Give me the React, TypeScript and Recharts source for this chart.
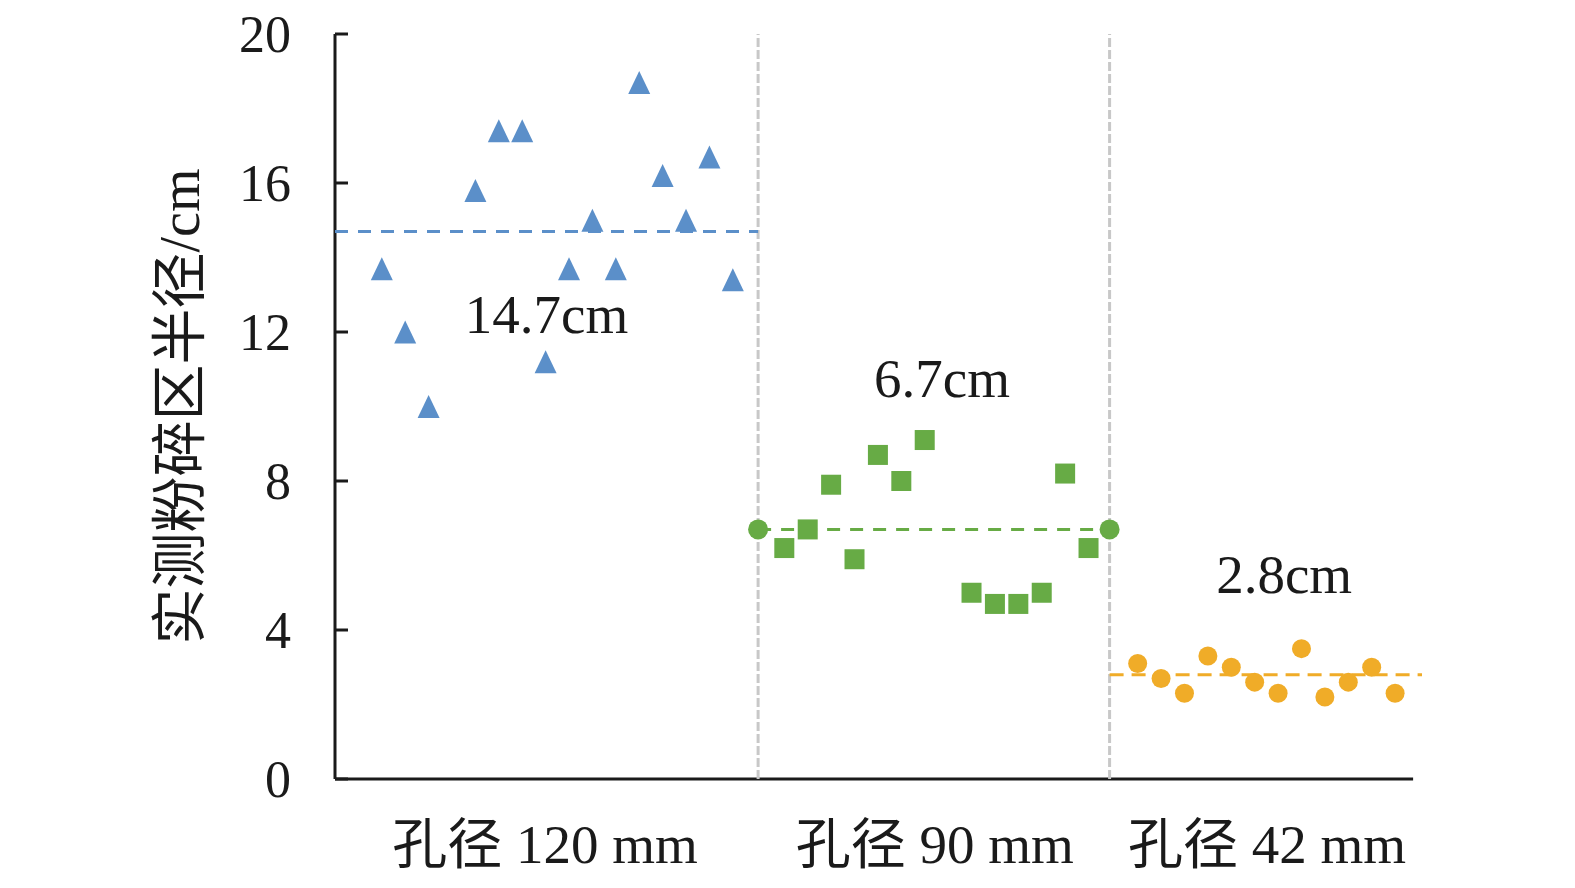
import React from 'react';
import { ScatterChart, Scatter, XAxis, YAxis, ReferenceLine, ReferenceDot } from 'recharts';

// measured radius per hole, x is the position along the row
const HOLE_120_X = [2, 3, 4, 6, 7, 8, 9, 10, 11, 12, 13, 14, 15, 16, 17];
const HOLE_120_Y = [13.7, 12.0, 10.0, 15.8, 17.4, 17.4, 11.2, 13.7, 15.0, 13.7, 18.7, 16.2, 15.0, 16.7, 13.4];
const HOLE_90_X = [19.2, 20.2, 21.2, 22.2, 23.2, 24.2, 25.2, 27.2, 28.2, 29.2, 30.2, 31.2, 32.2];
const HOLE_90_Y = [6.2, 6.7, 7.9, 5.9, 8.7, 8.0, 9.1, 5.0, 4.7, 4.7, 5.0, 8.2, 6.2];
const HOLE_42_X = [34.3, 35.3, 36.3, 37.3, 38.3, 39.3, 40.3, 41.3, 42.3, 43.3, 44.3, 45.3];
const HOLE_42_Y = [3.1, 2.7, 2.3, 3.3, 3.0, 2.6, 2.3, 3.5, 2.2, 2.6, 3.0, 2.3];

const MEANS = [14.7, 6.7, 2.8];
const GROUP_BOUNDS = [0, 18.08, 33.1, 46.45];
const GROUP_LABELS = ['孔径 120 mm', '孔径 90 mm', '孔径 42 mm'];
const GROUP_LABEL_X = [8.97, 25.63, 39.83];
const MEAN_LABELS = ['14.7cm', '6.7cm', '2.8cm'];
const MEAN_LABEL_X = [9.04, 25.94, 40.56];
const MEAN_LABEL_Y = [12.5, 10.77, 5.53];
const Y_TICKS = [0, 4, 8, 12, 16, 20];
const X_AXIS_END = 46.07;

const BLUE = '#5b8fc9';
const GREEN = '#67ab45';
const ORANGE = '#f0ac28';
const INK = '#1a1a1a';
const FONT = '"Liberation Serif", "Times New Roman", "Noto Sans CJK SC", serif';

const toPoints = (xs: number[], ys: number[]) => xs.map((x, i) => ({ x, y: ys[i] }));
const meanLine = (i: number) => [
  { x: GROUP_BOUNDS[i], y: MEANS[i] },
  { x: GROUP_BOUNDS[i + 1], y: MEANS[i] },
];

const Triangle = (props: any) => {
  const { cx, cy } = props;
  return (
    <polygon
      points={`${cx},${cy - 11.5} ${cx - 11},${cy + 11.5} ${cx + 11},${cy + 11.5}`}
      fill={BLUE}
    />
  );
};

const Square = (props: any) => {
  const { cx, cy } = props;
  return <rect x={cx - 10} y={cy - 10} width={20} height={20} fill={GREEN} />;
};

const Dot = (props: any) => {
  const { cx, cy } = props;
  return <circle cx={cx} cy={cy} r={9.5} fill={ORANGE} />;
};

const EndDot = (props: any) => {
  const { cx, cy } = props;
  return <circle cx={cx} cy={cy} r={10} fill={GREEN} />;
};

const NoMark = () => <g />;

const GroupTick = (props: any) => {
  const { x, y, payload } = props;
  const label = GROUP_LABELS[GROUP_LABEL_X.indexOf(payload.value)];
  return (
    <text x={x} y={y + 76} textAnchor="middle" fontSize={55} fill={INK} fontFamily={FONT}>
      {label}
    </text>
  );
};

const YLabel = (props: any) => {
  const { x, y, height } = props.viewBox;
  const cx = x - 55;
  const cy = y + height / 2;
  return (
    <text
      x={cx}
      y={cy}
      transform={`rotate(-90 ${cx} ${cy})`}
      textAnchor="middle"
      dominantBaseline="central"
      fontSize={56}
      fill={INK}
      fontFamily={FONT}
    >
      实测粉碎区半径/cm
    </text>
  );
};

export default function App() {
  return (
    <div style={{ position: 'absolute', left: 0, top: 0, width: 1575, height: 888, background: '#fff' }}>
      <ScatterChart width={1575} height={888} margin={{ top: 34, right: 153, bottom: 0, left: 235 }}>
        <XAxis
          type="number"
          dataKey="x"
          domain={[GROUP_BOUNDS[0], GROUP_BOUNDS[3]]}
          ticks={GROUP_LABEL_X}
          interval={0}
          axisLine={false}
          tickLine={false}
          height={109}
          tick={<GroupTick />}
        />
        <YAxis
          type="number"
          dataKey="y"
          domain={[0, 20]}
          ticks={Y_TICKS}
          interval={0}
          width={100}
          axisLine={{ stroke: INK, strokeWidth: 3 }}
          tickLine={{ stroke: INK, strokeWidth: 3 }}
          tickSize={-13}
          tickMargin={57}
          tick={{ fontSize: 52, fill: INK, fontFamily: FONT }}
          label={<YLabel />}
        />

        <ReferenceLine
          segment={[{ x: 0, y: 0 }, { x: X_AXIS_END, y: 0 }]}
          stroke={INK}
          strokeWidth={3}
        />

        <Scatter data={meanLine(0)} shape={<NoMark />} line={{ stroke: BLUE, strokeWidth: 3, strokeDasharray: '13 10' }} isAnimationActive={false} />
        <Scatter data={meanLine(1)} shape={<EndDot />} line={{ stroke: GREEN, strokeWidth: 3, strokeDasharray: '13 10' }} isAnimationActive={false} />
        <Scatter data={meanLine(2)} shape={<NoMark />} line={{ stroke: ORANGE, strokeWidth: 3, strokeDasharray: '14 8' }} isAnimationActive={false} />

        <Scatter data={toPoints(HOLE_120_X, HOLE_120_Y)} shape={<Triangle />} isAnimationActive={false} />
        <Scatter data={toPoints(HOLE_90_X, HOLE_90_Y)} shape={<Square />} isAnimationActive={false} />
        <Scatter data={toPoints(HOLE_42_X, HOLE_42_Y)} shape={<Dot />} isAnimationActive={false} />

        <ReferenceLine x={GROUP_BOUNDS[1]} stroke="#c8c8c8" strokeWidth={3} strokeDasharray="9 3" />
        <ReferenceLine x={GROUP_BOUNDS[2]} stroke="#c8c8c8" strokeWidth={3} strokeDasharray="9 3" />

        {MEAN_LABELS.map((text, i) => (
          <ReferenceDot
            key={text}
            x={MEAN_LABEL_X[i]}
            y={MEAN_LABEL_Y[i]}
            r={0}
            fill="none"
            stroke="none"
            label={{ value: text, position: 'center', fontSize: 55, fill: INK, fontFamily: FONT }}
          />
        ))}
      </ScatterChart>
    </div>
  );
}
